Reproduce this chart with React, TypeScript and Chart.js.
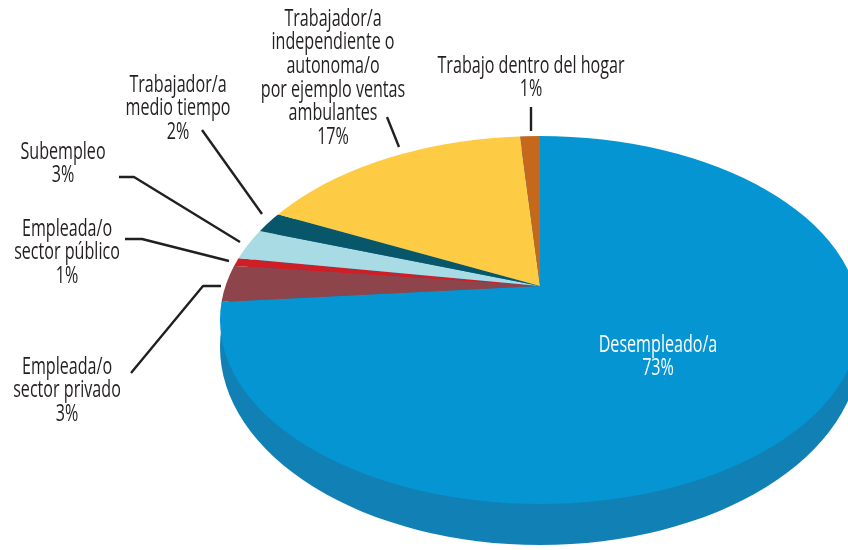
import React, { useEffect, useRef } from "react";
import { Chart, registerables } from "chart.js";

Chart.register(...registerables);

const categories = [
  "Desempleado/a",
  "Empleada/o\nsector privado",
  "Empleada/o\nsector público",
  "Subempleo",
  "Trabajador/a\nmedio tiempo",
  "Trabajador/a\nindependiente o\nautonoma/o\npor ejemplo ventas\nambulantes",
  "Trabajo dentro del hogar",
];
const printedPercents = [73, 3, 1, 3, 2, 17, 1];
// slice sizes as measured on the drawn pie
const sliceShares = [73.3, 3.9, 0.9, 3.2, 2.1, 15.6, 1.0];
const sliceColors = ["#0595d3", "#8e444b", "#cf1f26", "#a9dbe5", "#07566a", "#fecb45", "#c5681b"];
const sideColor = "#1180b5";

const labelAnchors = [
  { x: 658, y: 345, color: "#ffffff" },
  { x: 67, y: 367, color: "#231f20" },
  { x: 67, y: 229, color: "#231f20" },
  { x: 63, y: 152, color: "#231f20" },
  { x: 178, y: 85, color: "#231f20" },
  { x: 333, y: 19, color: "#231f20" },
  { x: 531, y: 66, color: "#231f20" },
];
const leaderLines = [
  [[131, 373], [203, 286], [221, 286]],
  [[125, 239], [142, 239], [229, 261]],
  [[119, 177], [134, 177], [240, 242]],
  [[202, 130], [262, 214]],
  [[387, 117], [399, 147]],
  [[531, 107], [531, 131]],
];

const LINE_HEIGHT = 23.7;
const TEXT_SQUEEZE = 0.7;
const apex = { x: 540, y: 286 };
const rim = { x: 540, y: 320, rx: 320, ry: 184 };
const base = { x: 540, y: 347, rx: 320, ry: 198 };
const spread = { x: 520, y: 244 };

const pie3d = {
  id: "pie3d",
  beforeDatasetsDraw(chart: any) {
    const ctx = chart.ctx;
    const arc = chart.getDatasetMeta(0).data[0];
    const r = arc.outerRadius;
    ctx.save();
    ctx.fillStyle = sideColor;
    ctx.beginPath();
    ctx.ellipse(base.x, base.y, base.rx, base.ry, 0, 0, Math.PI * 2);
    ctx.fill();
    ctx.beginPath();
    ctx.ellipse(rim.x, rim.y, rim.rx, rim.ry, 0, 0, Math.PI * 2);
    ctx.clip();
    ctx.translate(apex.x, apex.y);
    ctx.scale(spread.x / r, spread.y / r);
    ctx.translate(-arc.x, -arc.y);
  },
  afterDatasetsDraw(chart: any) {
    chart.ctx.restore();
  },
  afterDraw(chart: any) {
    const ctx = chart.ctx;
    ctx.save();
    ctx.strokeStyle = "#231f20";
    ctx.lineWidth = 2.4;
    ctx.lineJoin = "round";
    leaderLines.forEach((pts) => {
      ctx.beginPath();
      pts.forEach(([x, y], i) => (i ? ctx.lineTo(x, y) : ctx.moveTo(x, y)));
      ctx.stroke();
    });
    ctx.font = '500 23px "Open Sans", "Liberation Sans", sans-serif';
    ctx.textAlign = "center";
    ctx.textBaseline = "middle";
    categories.forEach((cat, i) => {
      const a = labelAnchors[i];
      ctx.fillStyle = a.color;
      const lines = [...cat.split("\n"), `${printedPercents[i]}%`];
      lines.forEach((t, j) => {
        ctx.save();
        ctx.translate(a.x, a.y + j * LINE_HEIGHT);
        ctx.scale(TEXT_SQUEEZE, 1);
        ctx.fillText(t, 0, 0);
        ctx.restore();
      });
    });
    ctx.restore();
  },
};

export default function App() {
  const ref = useRef<HTMLCanvasElement>(null);
  useEffect(() => {
    document.body.style.margin = "0";
    document.body.style.background = "#ffffff";
    const chart = new Chart(ref.current!, {
      type: "pie",
      data: {
        labels: categories,
        datasets: [
          {
            data: sliceShares,
            backgroundColor: sliceColors,
            borderWidth: 0,
            clip: false,
          } as any,
        ],
      },
      options: {
        responsive: false,
        animation: false,
        layout: { padding: 0 },
        plugins: { legend: { display: false }, tooltip: { enabled: false } },
      },
      plugins: [pie3d],
    });
    return () => chart.destroy();
  }, []);
  return <canvas ref={ref} width={848} height={550} style={{ display: "block" }} />;
}
